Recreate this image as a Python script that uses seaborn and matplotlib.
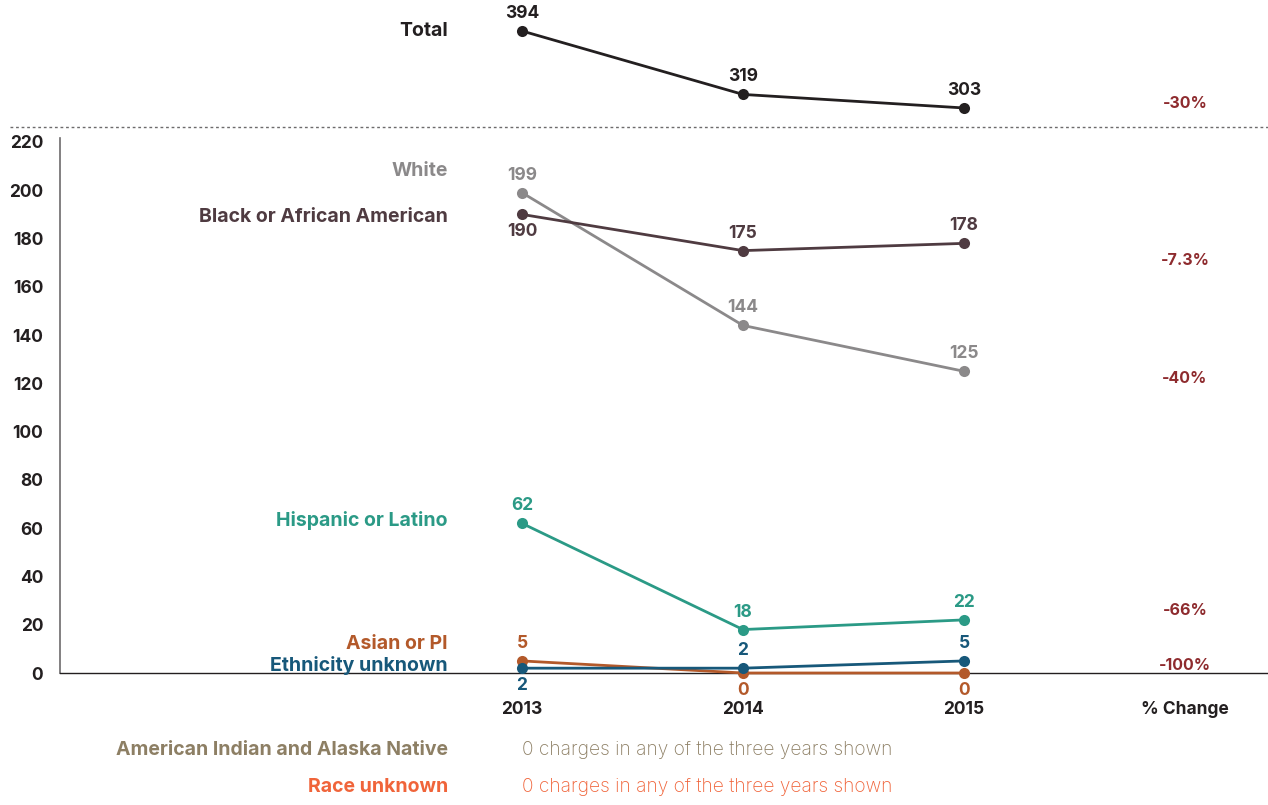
import matplotlib
matplotlib.use("Agg")
import matplotlib.pyplot as plt
from matplotlib.lines import Line2D
import seaborn as sns
import pandas as pd

# ---- data -------------------------------------------------------------
years = [2013, 2014, 2015]
total = [394, 319, 303]
white = [199, 144, 125]
black = [190, 175, 178]
hispanic = [62, 18, 22]
asian = [5, 0, 0]
ethnicity_unknown = [2, 2, 5]

pct_total = "-30%"
pct_black = "-7.3%"
pct_white = "-40%"
pct_hispanic = "-66%"
pct_asian = "-100%"

y_ticks = list(range(0, 221, 20))

# ---- styling ----------------------------------------------------------
sns.set_theme(style="white")
plt.rcParams["font.family"] = ["Inter", "DejaVu Sans"]

C_TOTAL = "#231f20"
C_WHITE = "#8b898a"
C_BLACK = "#4f3b41"
C_HISP = "#2b9a86"
C_ASIAN = "#b3592a"
C_ETH = "#17587a"
C_AIAN = "#8d7f64"
C_RACEUNK = "#f0643a"
C_PCT = "#8e2b2e"
C_TICK = "#231f20"

FS_NAME = 14
FS_VAL = 12.5
FS_TICK = 12.5
FS_PCT = 11.5

W, H = 1268, 805
fig = plt.figure(figsize=(W / 100, H / 100), dpi=100)

def px_box(x0, y0, x1, y1):
    return [x0 / W, 1 - y1 / H, (x1 - x0) / W, (y1 - y0) / H]

ax = fig.add_axes(px_box(60, 138, 1268, 673))
ax_top = fig.add_axes(px_box(60, 0, 1268, 127), sharex=ax)

XMIN, XMAX = 2013 - 462 / 221, 2015 + 304 / 221
X_LABEL = 2013 - 74 / 221
X_PCT = 2016.0

# ---- main panel -------------------------------------------------------
series = [
    ("White", white, C_WHITE),
    ("Black or African American", black, C_BLACK),
    ("Hispanic or Latino", hispanic, C_HISP),
    ("Asian or PI", asian, C_ASIAN),
    ("Ethnicity unknown", ethnicity_unknown, C_ETH),
]
df = pd.DataFrame(
    [(name, yr, v) for name, vals, _ in series for yr, v in zip(years, vals)],
    columns=["group", "year", "charges"],
)
palette = {name: c for name, _, c in series}
sns.lineplot(data=df, x="year", y="charges", hue="group", palette=palette,
             marker="o", markersize=8, markeredgewidth=0, linewidth=2,
             legend=False, ax=ax, clip_on=False, zorder=3)

ax.set_xlim(XMIN, XMAX)
ax.set_ylim(0, 220 + 4 / 2.414)
ax.set_yticks(y_ticks)
ax.set_yticklabels([str(t) for t in y_ticks], fontsize=FS_TICK, fontweight="bold",
                   color=C_TICK)
ax.tick_params(axis="y", length=0, pad=12)
# year ticks plus the "% Change" column header on the same baseline
ax.set_xticks(years + [X_PCT])
ax.set_xticklabels([str(y) for y in years] + ["% Change"], fontsize=FS_TICK,
                   fontweight="bold", color=C_TICK)
ax.tick_params(axis="x", length=0, pad=20)
ax.set_xlabel("")
ax.set_ylabel("")
for s in ["top", "right"]:
    ax.spines[s].set_visible(False)
ax.spines["left"].set_color("#6d6b6c")
ax.spines["left"].set_linewidth(1.2)
ax.spines["bottom"].set_color("#231f20")
ax.spines["bottom"].set_linewidth(1.0)
ax.patch.set_alpha(0)

# value labels: offset in points above (+) or below (-) each marker
offsets = {
    "White": [1, 1, 1],
    "Black or African American": [-1, 1, 1],
    "Hispanic or Latino": [1, 1, 1],
    "Asian or PI": [1, -1, -1],
    "Ethnicity unknown": [-1, 1, 1],
}
for name, vals, c in series:
    for yr, v, o in zip(years, vals, offsets[name]):
        ax.annotate(str(v), (yr, v), xytext=(0, 6.5 * o), textcoords="offset points",
                    ha="center", va="bottom" if o > 0 else "top",
                    fontsize=FS_VAL, fontweight="bold", color=c,
                    annotation_clip=False)

# series names on the left
name_pos = {
    "White": 208,
    "Black or African American": 189,
    "Hispanic or Latino": 63,
    "Asian or PI": 12,
    "Ethnicity unknown": 3,
}
for name, vals, c in series:
    ax.text(X_LABEL, name_pos[name], name, ha="right", va="center",
            fontsize=FS_NAME, fontweight="bold", color=c)

# percent change column
for txt, yv in [(pct_black, 171), (pct_white, 122), (pct_hispanic, 26), (pct_asian, 3)]:
    ax.text(X_PCT, yv, txt, ha="center", va="center", fontsize=FS_PCT,
            fontweight="bold", color=C_PCT)

# ---- total panel ------------------------------------------------------
df_total = pd.DataFrame({"year": years, "charges": total})
sns.lineplot(data=df_total, x="year", y="charges", color=C_TOTAL, marker="o",
             markersize=8, markeredgewidth=0, linewidth=2, ax=ax_top,
             clip_on=False)
ax_top.set_ylim(280.5, 430.6)
ax_top.axis("off")
for yr, v in zip(years, total):
    ax_top.annotate(str(v), (yr, v), xytext=(0, 6.5), textcoords="offset points",
                    ha="center", va="bottom", fontsize=FS_VAL, fontweight="bold",
                    color=C_TOTAL, annotation_clip=False)
ax_top.text(X_LABEL, total[0], "Total", ha="right", va="center", fontsize=FS_NAME,
            fontweight="bold", color=C_TOTAL)
ax_top.text(X_PCT, total[2] + 5, pct_total, ha="center", va="center",
            fontsize=FS_PCT, fontweight="bold", color=C_PCT)

# dotted separator between panels
fig.add_artist(Line2D([10 / W, 1], [1 - 127 / H, 1 - 127 / H], color="#6d6b6c",
                      linewidth=1, linestyle=(0, (2, 2)), transform=fig.transFigure))

# ---- notes for groups with no charges ---------------------------------
notes = [
    ("American Indian and Alaska Native", C_AIAN, 750),
    ("Race unknown", C_RACEUNK, 787),
]
for name, c, ypx in notes:
    fig.text(448 / W, 1 - ypx / H, name, ha="right", va="center", fontsize=14,
             fontweight="bold", color=c)
    fig.text(522 / W, 1 - ypx / H, "0 charges in any of the three years shown",
             ha="left", va="center", fontsize=13.8, fontweight="light", color=c)

fig.savefig("out.png", dpi=100)
